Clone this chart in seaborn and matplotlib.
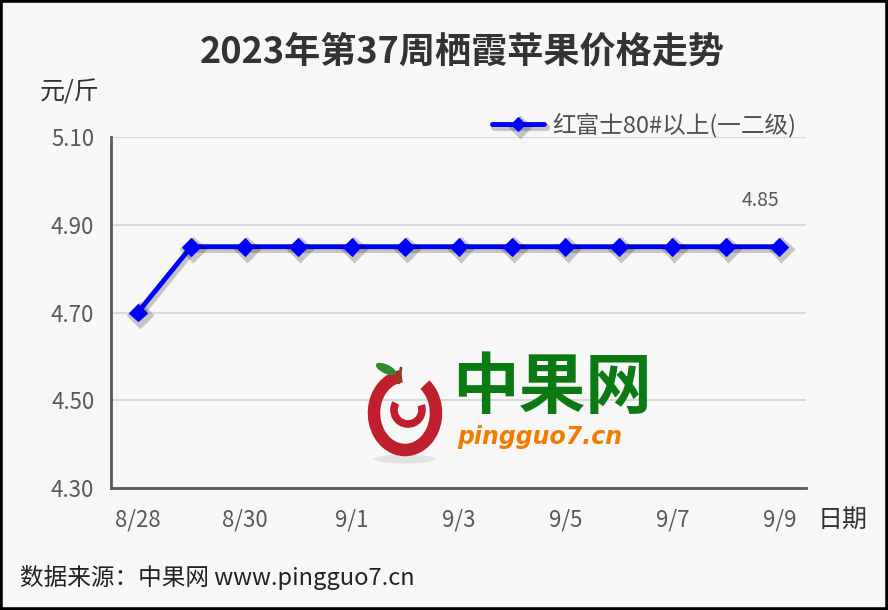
import matplotlib
matplotlib.use('Agg')
import matplotlib.pyplot as plt
import matplotlib.patheffects as pe
from matplotlib.patches import Rectangle, Arc, Ellipse
import seaborn as sns
import pandas as pd
import numpy as np

# data
dates = ['8/28', '8/29', '8/30', '8/31', '9/1', '9/2', '9/3',
         '9/4', '9/5', '9/6', '9/7', '9/8', '9/9']
prices = [4.70, 4.85, 4.85, 4.85, 4.85, 4.85, 4.85,
          4.85, 4.85, 4.85, 4.85, 4.85, 4.85]
series_name = '红富士80#以上(一二级)'
y_ticks = [4.30, 4.50, 4.70, 4.90, 5.10]

sns.set_style('white')
plt.rcParams['font.family'] = ['Noto Sans CJK SC', 'DejaVu Sans']
plt.rcParams['axes.unicode_minus'] = False

grey = '#595959'
df = pd.DataFrame({'date': dates, 'price': prices})

fig = plt.figure(figsize=(8.88, 6.10), dpi=100, facecolor='#f7f7f7')
ax = fig.add_axes([0.125, 0.2, 0.7827, 0.5754])
ax.set_facecolor('#f7f7f7')

sns.lineplot(data=df, x='date', y='price', ax=ax, sort=False, color='#0000ff',
             lw=3.5, marker='D', markersize=9, markeredgecolor='#0000ff',
             label=series_name, zorder=3)
ax.lines[0].set_path_effects([
    pe.SimpleLineShadow(offset=(1.5, -2), shadow_color='black', alpha=0.2, linewidth=5),
    pe.Normal()])

# axes styling
ax.set_xlim(-0.5, len(dates) - 0.5)
ax.set_ylim(4.30, 5.10)
ax.set_yticks(y_ticks)
ax.set_yticklabels([f'{v:.2f}' for v in y_ticks])
ax.set_xticks(range(0, len(dates), 2))
ax.set_xticklabels(dates[::2])
ax.set_xticks(np.arange(-0.5, len(dates), 1), minor=True)
ax.tick_params(axis='x', which='major', length=0, pad=15, labelsize=16, labelcolor=grey)
ax.tick_params(axis='x', which='minor', direction='in', length=6, width=1.5, color=grey)
ax.tick_params(axis='y', direction='in', length=10, width=2, color=grey,
               pad=12, labelsize=16, labelcolor=grey)
ax.grid(axis='y', color='#d9d9d9', lw=1.5)
ax.grid(axis='x', visible=False)
for s in ['top', 'right']:
    ax.spines[s].set_visible(False)
for s in ['left', 'bottom']:
    ax.spines[s].set_color(grey)
    ax.spines[s].set_linewidth(2)
    ax.spines[s].set_zorder(4)
ax.set_xlabel('')
ax.set_ylabel('')

# value label on the last point
ax.annotate(f'{prices[-1]:.2f}', xy=(len(dates) - 1, prices[-1]), xytext=(-19, 46),
            textcoords='offset pixels', ha='center', va='center',
            fontsize=14, color=grey)

# legend above the plot
handles, labels = ax.get_legend_handles_labels()
ax.get_legend().remove()
fig.legend(handles, labels, loc='center right', bbox_to_anchor=(808 / 888, 1 - 125 / 610),
           frameon=False, fontsize=17, handlelength=2.2, handletextpad=0.35,
           markerscale=0.75, borderpad=0, labelcolor='#505050')

# titles and labels
fig.text(462 / 888, 1 - 52 / 610, '2023年第37周栖霞苹果价格走势', ha='center', va='center',
         fontsize=26, fontweight='bold', color='#333333')
fig.text(40 / 888, 1 - 92 / 610, '元/斤', ha='left', va='center', fontsize=18, color='#333333')
fig.text(818 / 888, 1 - 520 / 610, '日期', ha='left', va='center', fontsize=18, color='#333333')
fig.text(20 / 888, 1 - 577 / 610, '数据来源：中果网 www.pingguo7.cn', ha='left', va='center',
         fontsize=17, color='#222222')

# watermark logo
fig.text(552 / 888, 1 - 388 / 610, '中果网', ha='center', va='center', fontsize=48,
         fontweight='bold', color='#0b7a12', zorder=5)
fig.text(540 / 888, 1 - 437 / 610, 'pingguo7.cn', ha='center', va='center', fontsize=17,
         fontweight='bold', fontstyle='italic', color='#f07c00',
         family=['DejaVu Sans'], zorder=5)
lax = fig.add_axes([360 / 888, 1 - 465 / 610, 90 / 888, 110 / 610])
lax.set_xlim(0, 90)
lax.set_ylim(0, 110)
lax.axis('off')
lax.patch.set_alpha(0)
lax.add_patch(Ellipse((45, 6), 62, 9, color='#888888', alpha=0.18, lw=0))
lax.add_patch(Arc((45, 52), 62, 74, theta1=95, theta2=55 + 360, lw=9, color='#c01f2e'))
lax.add_patch(Arc((48, 55), 28, 28, theta1=150, theta2=380, lw=5.5, color='#c01f2e'))
lax.add_patch(Ellipse((26, 96), 22, 9, angle=-25, color='#2e8b2e', lw=0))
lax.plot([41, 39], [97, 82], color='#7b4a1e', lw=2)

# outer border
fig.add_artist(Rectangle((0, 0), 1, 1, transform=fig.transFigure, fill=False,
                         ec='black', lw=4, zorder=10))

fig.savefig('out.png', dpi=100, facecolor=fig.get_facecolor())
